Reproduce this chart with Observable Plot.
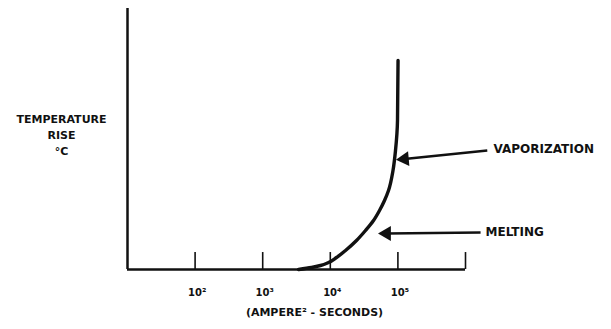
<!DOCTYPE html>
<html>
<head>
<meta charset="utf-8">
<script src="https://cdn.jsdelivr.net/npm/d3@7"></script>
<script src="https://cdn.jsdelivr.net/npm/@observablehq/plot@0.6"></script>
<style>
  html, body { margin: 0; padding: 0; background: #fff; }
  #chart { width: 611px; height: 329px; }
</style>
</head>
<body>
<div id="chart"></div>
<script>
// Curve: temperature rise vs. I²t (log scale), relative units
const curveX = [3390, 5270, 7160, 9400, 12350, 16790, 24410, 33170, 43570, 53440, 63370, 72610, 84620, 92150, 98650, 100500];
const curveY = [0, 0.77, 1.53, 2.68, 4.6, 7.28, 11.11, 14.94, 18.77, 22.61, 26.44, 30.27, 37.93, 45.59, 57.09, 80.08];

// Axis ticks
const tickValues = [100, 1000, 10000, 100000, 1000000];
const labelValues = [100, 1000, 10000, 100000];
const tickLabels = ["10²", "10³", "10⁴", "10⁵"];
const xTitle = "(AMPERE² - SECONDS)";
const yTitle = "TEMPERATURE\nRISE\n°C";

// Annotations
const annLabels = ["VAPORIZATION", "MELTING"];
const annTextX = [2600000, 1980000];
const annTextY = [46, 14.2];
const annTailX = [2100000, 1670000];
const annTailY = [45.6, 14.2];
const annTipX = [125000, 68000];
const annTipY = [42.3, 13.8];
const annRotate = [-95, -90];

const curve = curveX.map((x, i) => ({x, y: curveY[i]}));
const labels = labelValues.map((v, i) => ({v, t: tickLabels[i]}));
const anns = annLabels.map((t, i) => ({
  t, tx: annTextX[i], ty: annTextY[i],
  x1: annTailX[i], y1: annTailY[i], x2: annTipX[i], y2: annTipY[i], r: annRotate[i]
}));

const chart = Plot.plot({
  width: 611,
  height: 329,
  marginLeft: 127,
  marginRight: 146,
  marginTop: 8,
  marginBottom: 60,
  x: {type: "log", domain: [10, 1000000], axis: null},
  y: {domain: [0, 100], axis: null},
  style: {fontFamily: "'DejaVu Sans', sans-serif", fontWeight: "bold", background: "#fff", color: "#111"},
  marks: [
    // axes
    Plot.ruleY([0], {x1: 10, x2: 1000000, stroke: "#111", strokeWidth: 2.5}),
    Plot.ruleX([10], {y1: 0, y2: 100, stroke: "#111", strokeWidth: 2.5}),
    Plot.ruleX(tickValues, {y1: 0, y2: 6.5, stroke: "#111", strokeWidth: 1.6}),
    Plot.text(labels, {x: "v", y: 0, text: "t", dy: 23, dx: 2, fontSize: 10, fill: "#111"}),
    Plot.text([xTitle], {frameAnchor: "bottom", dy: 46, dx: 18, fontSize: 11, fill: "#111"}),
    Plot.text([yTitle], {frameAnchor: "left", y: 52.1, dx: -66, textAnchor: "middle", lineHeight: 1.45, fontSize: 11, fill: "#111"}),
    // curve
    Plot.line(curve, {x: "x", y: "y", curve: "monotone-y", stroke: "#111", strokeWidth: 3.4}),
    // annotations
    Plot.link(anns, {x1: "x1", y1: "y1", x2: "x2", y2: "y2", stroke: "#111", strokeWidth: 2.5}),
    Plot.dot(anns, {x: "x2", y: "y2", symbol: "triangle", r: 5.5, rotate: "r", fill: "#111", stroke: "none"}),
    Plot.text(anns, {x: "tx", y: "ty", text: "t", textAnchor: "start", fontSize: 12, fill: "#111"})
  ]
});
document.getElementById("chart").appendChild(chart);
</script>
</body>
</html>
